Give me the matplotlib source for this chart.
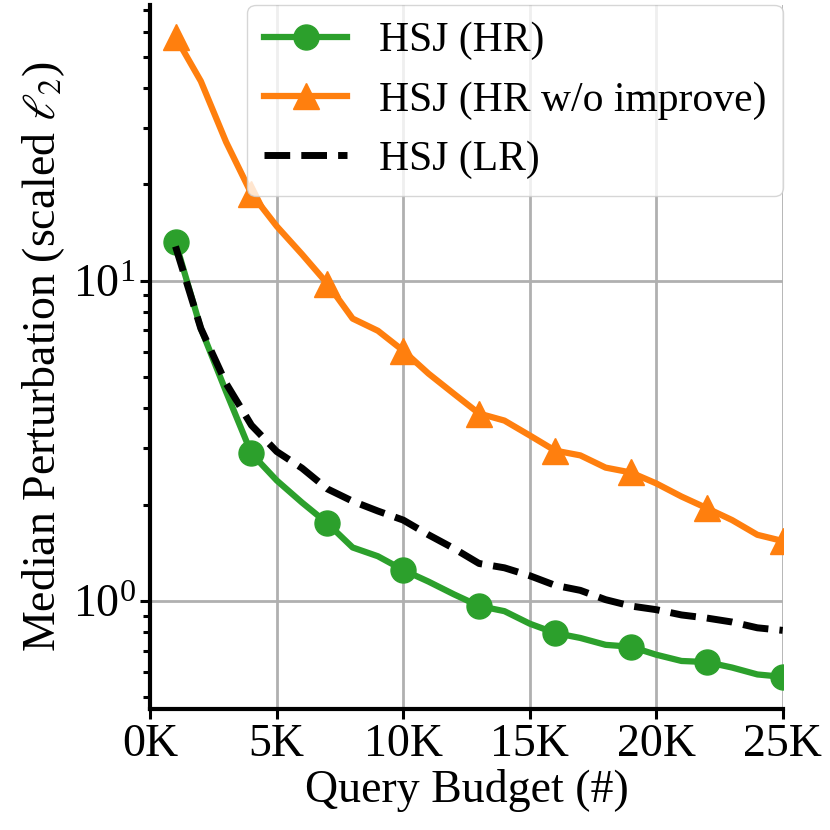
import matplotlib
matplotlib.use('Agg')
import matplotlib.pyplot as plt
from matplotlib.ticker import FuncFormatter

plt.rcParams['font.family'] = ['Liberation Serif', 'DejaVu Serif']
plt.rcParams['mathtext.fontset'] = 'stix'

queries = [1000 * k for k in range(1, 26)]

hsj_hr = [13.2, 7.1, 4.5, 2.89, 2.38, 2.03, 1.75, 1.47, 1.38, 1.25,
          1.15, 1.05, 0.965, 0.93, 0.85, 0.795, 0.767, 0.73, 0.72, 0.68,
          0.65, 0.645, 0.62, 0.59, 0.58]
hsj_hr_noimp = [57.7, 42.0, 27.1, 18.7, 14.8, 12.1, 9.8, 7.62, 6.98, 6.05,
                5.13, 4.44, 3.85, 3.66, 3.29, 2.95, 2.85, 2.61, 2.52, 2.33,
                2.12, 1.95, 1.79, 1.61, 1.54]
hsj_lr = [12.8, 7.1, 4.78, 3.54, 2.93, 2.60, 2.24, 2.05, 1.91, 1.79,
          1.61, 1.46, 1.31, 1.27, 1.20, 1.12, 1.08, 1.01, 0.965, 0.94,
          0.905, 0.885, 0.86, 0.825, 0.81]

fs = 33
fig, ax = plt.subplots(figsize=(8.3, 8.3), dpi=100)
fig.subplots_adjust(left=0.181, right=0.943, bottom=0.146, top=0.994)

ax.plot(queries, hsj_hr, color='#2ca02c', lw=4.5, marker='o', ms=18,
        markevery=3, label='HSJ (HR)')
ax.plot(queries, hsj_hr_noimp, color='#ff7f0e', lw=4.5, marker='^', ms=19,
        markevery=3, label='HSJ (HR w/o improve)')
ax.plot(queries, hsj_lr, color='black', lw=5, ls='--', label='HSJ (LR)')

ax.set_yscale('log')
ax.set_xlim(0, 25000)
ax.set_xticks(range(0, 25001, 5000))
ax.xaxis.set_major_formatter(FuncFormatter(lambda v, p: f'{int(v / 1000)}K'))

ax.grid(True, which='major', color='#b0b0b0', lw=2)
ax.set_axisbelow(True)
for side in ['top', 'right']:
    ax.spines[side].set_visible(False)
for side in ['left', 'bottom']:
    ax.spines[side].set_linewidth(3)

ax.tick_params(axis='both', which='major', labelsize=fs, length=7, width=2.2)
ax.tick_params(axis='y', which='minor', length=5, width=2.2)

ax.set_xlabel('Query Budget (#)', fontsize=fs, labelpad=2)
ax.set_ylabel(r'Median Perturbation (scaled $\ell_2$)', fontsize=fs, labelpad=4)

ax.legend(loc='upper right', fontsize=30, borderaxespad=0, labelspacing=0.5,
          handletextpad=0.75)

plt.savefig('out.png', dpi=100)
